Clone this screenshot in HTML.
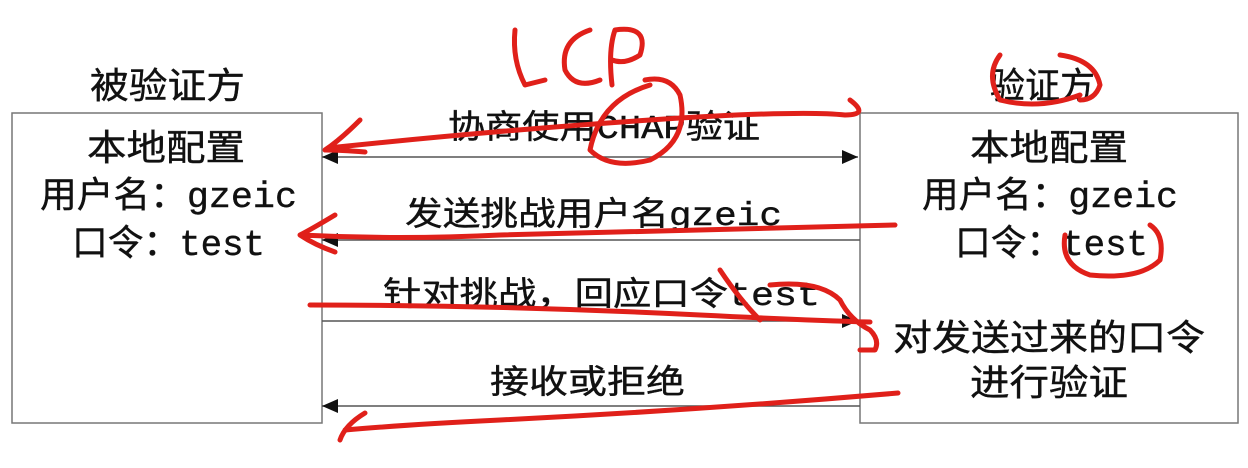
<!DOCTYPE html>
<html><head><meta charset="utf-8"><style>
body{margin:0;background:#fff;}
svg{display:block}
text{font-family:"Liberation Mono","Noto Sans CJK SC",monospace;fill:#111;stroke:#111;stroke-width:0.4;}
</style></head><body>
<svg width="1248" height="468" viewBox="0 0 1248 468">
<rect x="0" y="0" width="1248" height="468" fill="#fff"/>
<rect x="12" y="113" width="310" height="310" fill="none" stroke="#777" stroke-width="1.5"/>
<rect x="860" y="113" width="378" height="310" fill="none" stroke="#777" stroke-width="1.5"/>
<g font-size="36" lengthAdjust="spacingAndGlyphs">
<text x="90" y="98" textLength="155" lengthAdjust="spacingAndGlyphs">被验证方</text>
<text x="990" y="98" textLength="105" lengthAdjust="spacingAndGlyphs">验证方</text>
<text x="87" y="160" textLength="158" lengthAdjust="spacingAndGlyphs">本地配置</text>
<text x="40" y="207" textLength="257" lengthAdjust="spacingAndGlyphs">用户名：gzeic</text>
<text x="72" y="255" textLength="193" lengthAdjust="spacingAndGlyphs">口令：test</text>
<text x="970" y="160" textLength="158" lengthAdjust="spacingAndGlyphs">本地配置</text>
<text x="922" y="207" textLength="256" lengthAdjust="spacingAndGlyphs">用户名：gzeic</text>
<text x="955" y="255" textLength="193" lengthAdjust="spacingAndGlyphs">口令：test</text>
<text x="893" y="350" textLength="312" lengthAdjust="spacingAndGlyphs">对发送过来的口令</text>
<text x="970" y="395" textLength="158" lengthAdjust="spacingAndGlyphs">进行验证</text>
</g>
<g font-size="33">
<text x="448" y="138" textLength="312" lengthAdjust="spacingAndGlyphs">协商使用CHAP验证</text>
<text x="405" y="225" textLength="377" lengthAdjust="spacingAndGlyphs">发送挑战用户名gzeic</text>
<text x="383" y="305" textLength="437" lengthAdjust="spacingAndGlyphs">针对挑战，回应口令test</text>
<text x="490" y="393" textLength="195" lengthAdjust="spacingAndGlyphs">接收或拒绝</text>
</g>
<g stroke="#555" stroke-width="1.5" fill="#111">
<line x1="322" y1="157" x2="858" y2="157"/>
<polygon points="322,157 338,150 338,164" stroke="none"/>
<polygon points="858,157 842,150 842,164" stroke="none"/>
<line x1="322" y1="240" x2="860" y2="240"/>
<polygon points="322,240 338,233 338,247" stroke="none"/>
<line x1="322" y1="321" x2="858" y2="321"/>
<polygon points="858,321 842,314 842,328" stroke="none"/>
<line x1="322" y1="406" x2="860" y2="406"/>
<polygon points="322,406 338,399 338,413" stroke="none"/>
</g>
<g stroke="#e0201a" stroke-width="5" fill="none" stroke-linecap="round" stroke-linejoin="round">
<path d="M515 30 Q512 60 525 85 L545 80"/>
<path d="M590 30 Q560 40 565 70 Q575 90 600 80"/>
<path d="M612 85 Q608 50 615 30 Q650 25 640 55 Q625 65 612 60"/>
<path d="M325 150 Q340 140 360 120 M325 150 Q340 150 365 152 M328 148 Q500 130 650 120 Q800 110 845 115 Q870 115 850 100"/>
<path d="M650 85 Q600 100 590 150 Q610 170 650 160 Q690 140 680 95 Q670 75 645 80"/>
<path d="M895 225 Q700 230 500 235 Q400 240 300 235 M335 215 Q310 230 300 235 Q315 245 335 252"/>
<path d="M310 305 Q500 305 700 315 Q800 320 870 322 M720 270 Q740 300 760 320 M770 285 Q820 280 840 300 Q850 320 870 330 Q880 340 875 350 L860 350"/>
<path d="M898 393 Q700 410 500 420 Q400 425 345 430 M365 413 Q345 425 340 440"/>
<path d="M1000 55 Q985 75 1000 100 Q1040 110 1080 95 M1060 55 Q1095 60 1100 85 Q1095 100 1080 100"/>
<path d="M1065 235 Q1060 265 1090 275 Q1140 280 1160 260 Q1165 235 1150 225"/>
</g>
</svg>
</body></html>
